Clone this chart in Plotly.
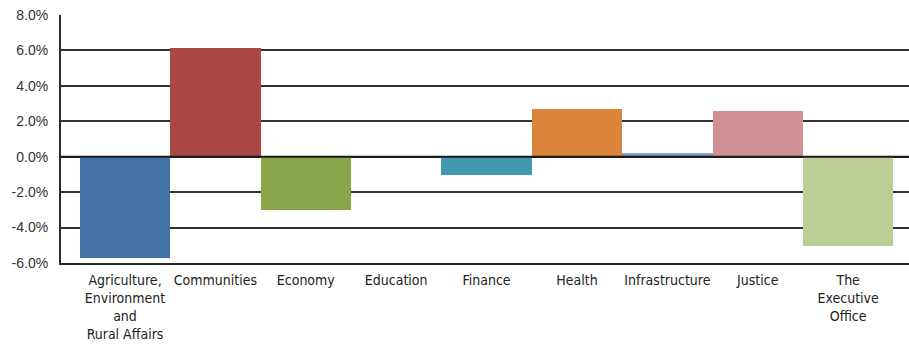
import plotly.graph_objects as go

# Departments and their percentage change
departments = [
    "Agriculture,<br>Environment<br>and<br>Rural Affairs",
    "Communities",
    "Economy",
    "Education",
    "Finance",
    "Health",
    "Infrastructure",
    "Justice",
    "The<br>Executive<br>Office",
]
change_pct = [-5.72, 6.13, -3.02, 0.0, -1.04, 2.69, 0.2, 2.58, -5.04]
bar_colors = [
    "#4272A6", "#A84745", "#8AA64B", "#7F9DC9", "#4298B0",
    "#DB843C", "#829FCA", "#CF9191", "#B9CD95",
]

y_ticks = [-6, -4, -2, 0, 2, 4, 6, 8]
y_tick_text = [f"{v:.1f}%" for v in y_ticks]

fig = go.Figure(
    go.Bar(
        x=list(range(len(departments))),
        y=change_pct,
        marker=dict(color=bar_colors, line=dict(width=0)),
        width=1.0,
        hoverinfo="skip",
    )
)

# Zero baseline drawn over the bars
fig.add_shape(
    type="line", xref="paper", yref="y", x0=0, x1=1, y0=0, y1=0,
    line=dict(color="#1a1a1a", width=2), layer="above",
)

fig.update_layout(
    width=909,
    height=344,
    margin=dict(l=61, r=0, t=15, b=81),
    paper_bgcolor="white",
    plot_bgcolor="white",
    showlegend=False,
    bargap=0,
    xaxis=dict(
        range=[-0.708, 8.673],
        tickmode="array",
        tickvals=list(range(len(departments))),
        ticktext=departments,
        tickangle=0,
        automargin=False,
        showgrid=False,
        zeroline=False,
        showline=True,
        linecolor="#2a2a2a",
        linewidth=2,
        ticks="",
        ticklabelstandoff=3,
        tickfont=dict(family="'DejaVu Sans Condensed', sans-serif",
                      size=14, color="#222222"),
    ),
    yaxis=dict(
        range=[-6, 8],
        tickmode="array",
        tickvals=y_ticks,
        ticktext=y_tick_text,
        automargin=False,
        showgrid=True,
        gridcolor="#333333",
        gridwidth=1.5,
        zeroline=False,
        showline=True,
        linecolor="#2a2a2a",
        linewidth=2,
        ticks="",
        ticklabelstandoff=8,
        tickfont=dict(family="'Liberation Sans', Arial, sans-serif", size=14, color="#333333"),
    ),
)

fig.write_html("out.html")
